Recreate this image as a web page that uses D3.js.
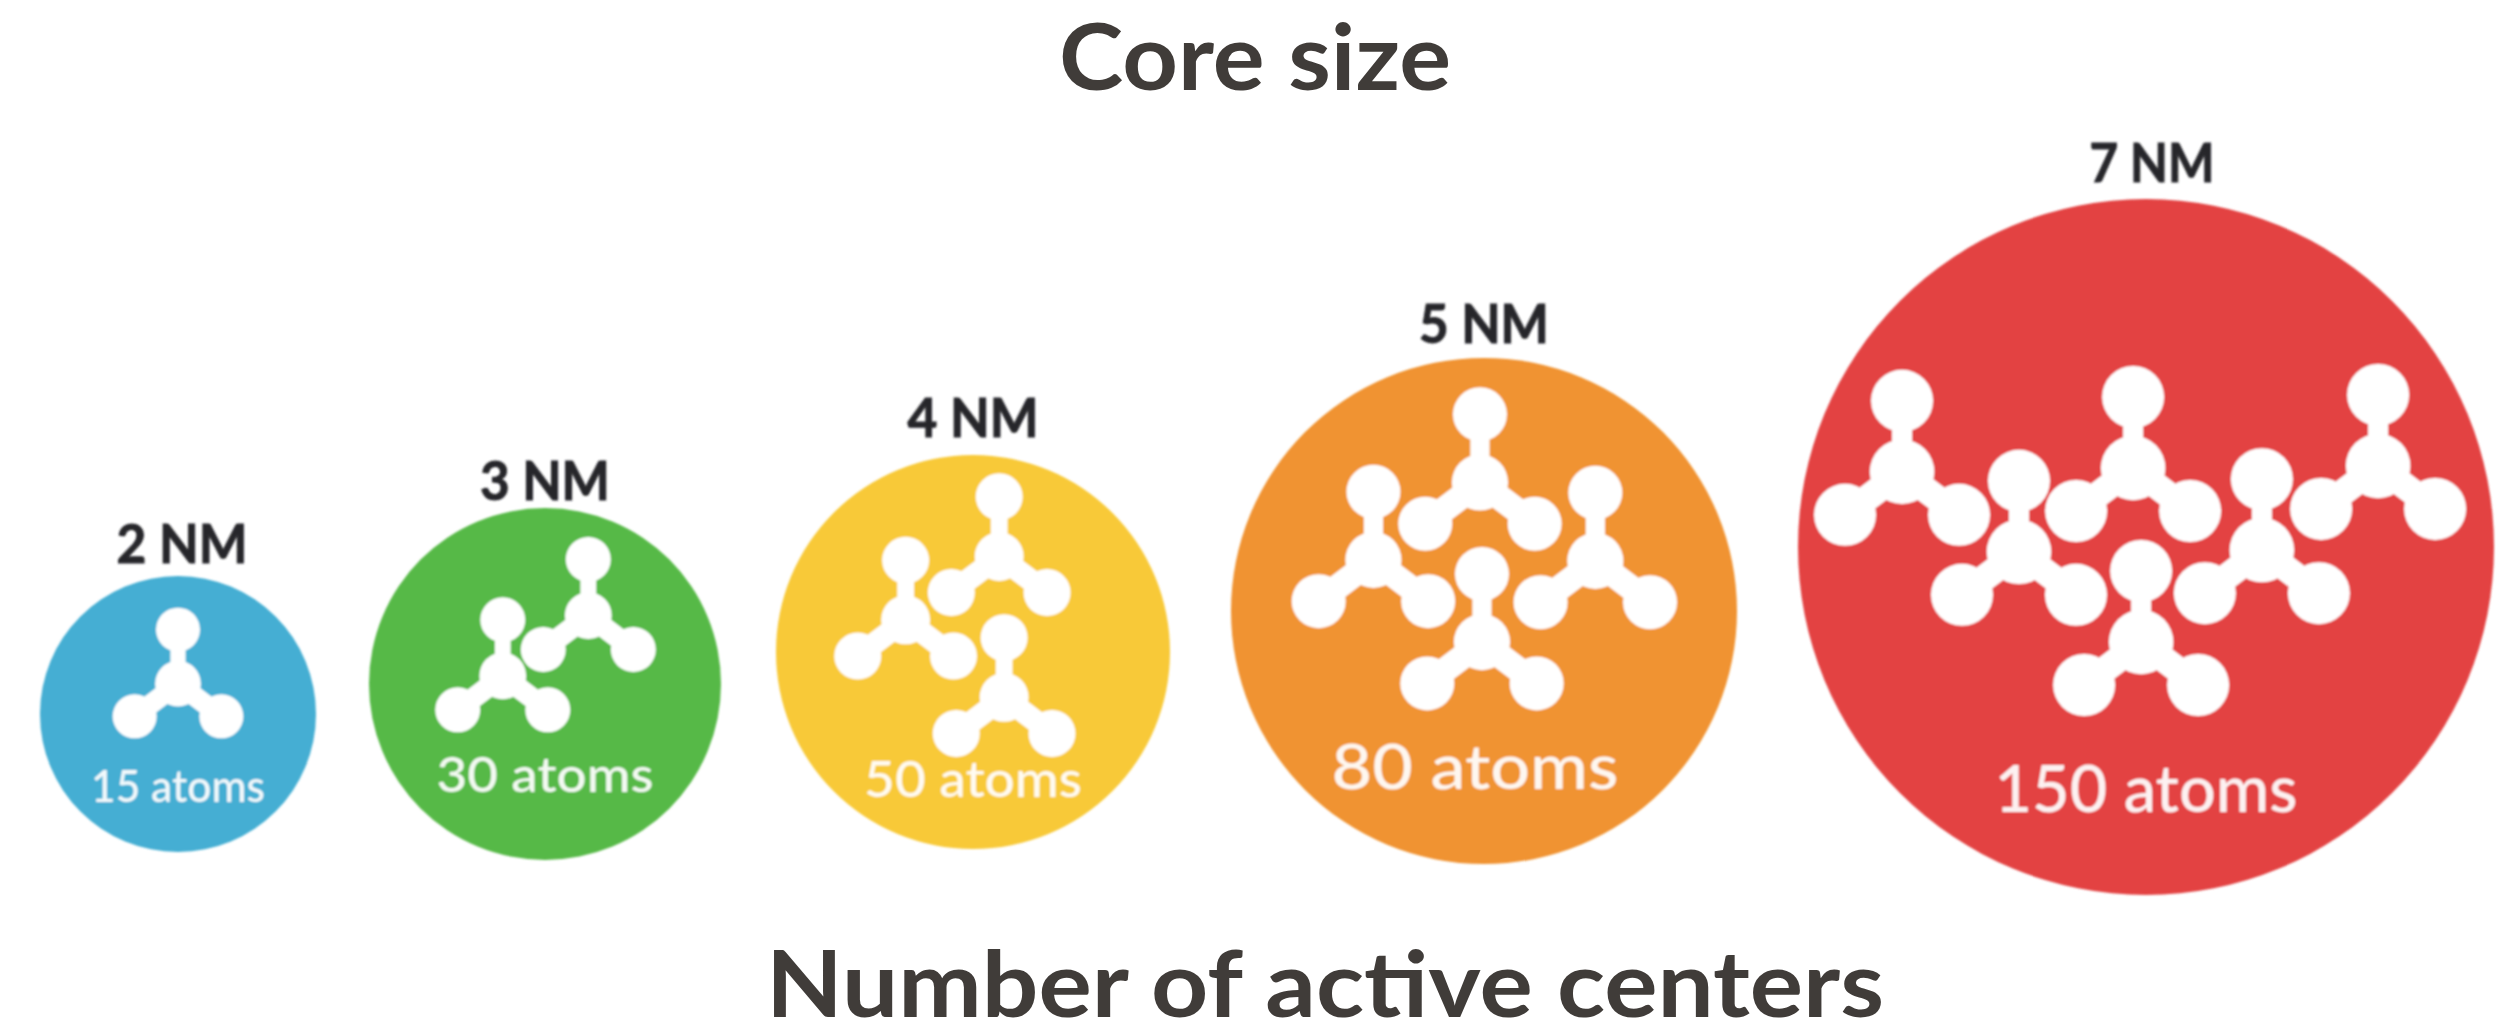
<!DOCTYPE html>
<html>
<head>
<meta charset="utf-8">
<title>Core size</title>
<script src="https://cdnjs.cloudflare.com/ajax/libs/d3/7.8.5/d3.min.js"></script>
<style>
body { margin: 0; background: #fff; }
svg { display: block; }
</style>
</head>
<body>
<script>
// chart data
var coreLabels = ["2 NM", "3 NM", "4 NM", "5 NM", "7 NM"];
var coreSizes = [2, 3, 4, 5, 7];
var atomCounts = [15, 30, 50, 80, 150];
var moleculeCounts = [1, 2, 3, 4, 6];
var titleTop = "Core size";
var titleBottom = "Number of active centers";

// disc colours
var discColors = ["#45aed3", "#56b947", "#f8c937", "#f09330", "#e34243"];

// where each molecule sits inside its disc, as a fraction of the disc radius
var moleculeU = [
  [0],
  [-0.24, 0.246],
  [0.133, -0.342, 0.158],
  [-0.016, -0.437, 0.44, -0.008],
  [-0.701, -0.365, -0.037, -0.014, 0.333, 0.667]
];
var moleculeV = [
  [-0.22],
  [-0.046, -0.389],
  [-0.485, -0.163, 0.23],
  [-0.508, -0.202, -0.198, 0.123],
  [-0.216, 0.014, -0.227, 0.273, 0.009, -0.233]
];

var width = 2515, height = 1022;

//Make an SVG Container
var svg = d3.select("body").append("svg")
  .attr("width", width)
  .attr("height", height);

var soft = svg.append("defs").append("filter")
  .attr("id", "soft");
soft.append("feGaussianBlur").attr("stdDeviation", 1.1);

// scales keyed on the core size in nm
var xScale = d3.scaleLinear().domain(coreSizes).range([178, 545, 973, 1484, 2146]);
var yScale = d3.scaleLinear().domain(coreSizes).range([714, 684, 652, 611, 547]);
var rScale = d3.scaleLinear().domain(coreSizes).range([138, 176, 197, 253, 348]);
var labelY = d3.scaleLinear().domain(coreSizes).range([563, 500, 437, 343, 182]);
var labelW = d3.scaleLinear().domain(coreSizes).range([131, 130, 131, 130, 125]);
var atomY = d3.scaleLinear().domain(coreSizes).range([802, 792, 797, 789, 812]);
var atomFont = d3.scaleLinear().domain(coreSizes).range([44, 49, 51, 61, 65]);
var atomW = d3.scaleLinear().domain(coreSizes).range([174, 217, 218, 287, 303]);
var molScale = d3.scaleLinear().domain(coreSizes).range([0.76, 0.79, 0.84, 0.96, 1]);
var nodeR = d3.scaleLinear().domain(coreSizes).range([22, 22.5, 23.5, 27, 31]);

// one molecule: centre node and three arms
var armX = [0, -57, 57];
var armY = [-71, 43, 43];
var armWidth = [20, 26, 26];

var rows = coreSizes.map(function(d, i) {
  return { nm: d, label: coreLabels[i], atoms: atomCounts[i], color: discColors[i], index: i };
});

var groups = svg.selectAll("g.core")
  .data(rows)
  .enter().append("g")
  .attr("class", "core")
  .attr("filter", "url(#soft)");

//Draw the discs
groups.append("circle")
  .attr("cx", function(d) { return xScale(d.nm); })
  .attr("cy", function(d) { return yScale(d.nm); })
  .attr("r", function(d) { return rScale(d.nm); })
  .style("fill", function(d) { return d.color; });

//Draw the molecules
groups.each(function(d) {
  var g = d3.select(this);
  var r = rScale(d.nm), s = molScale(d.nm), nr = nodeR(d.nm);
  var centers = d3.range(moleculeCounts[d.index]).map(function(k) {
    return [xScale(d.nm) + moleculeU[d.index][k] * r, yScale(d.nm) + moleculeV[d.index][k] * r];
  });
  var mol = g.selectAll("g.molecule")
    .data(centers)
    .enter().append("g")
    .attr("class", "molecule")
    .attr("transform", function(c) { return "translate(" + c[0] + "," + c[1] + ")"; });

  armX.forEach(function(ax, a) {
    mol.append("line")
      .attr("x1", 0).attr("y1", 0)
      .attr("x2", ax * s).attr("y2", armY[a] * s)
      .attr("stroke", "#fff")
      .attr("stroke-width", armWidth[a] * s);
    mol.append("circle")
      .attr("cx", ax * s)
      .attr("cy", armY[a] * s)
      .attr("r", nr)
      .style("fill", "#fff");
  });
  mol.append("circle")
    .attr("r", nr * 1.04)
    .style("fill", "#fff");
});

// atom counts inside the discs
groups.append("text")
  .attr("x", function(d) { return xScale(d.nm) + (d.nm == 5 ? -9 : 0); })
  .attr("y", function(d) { return atomY(d.nm); })
  .attr("text-anchor", "middle")
  .attr("textLength", function(d) { return atomW(d.nm); })
  .attr("lengthAdjust", "spacingAndGlyphs")
  .style("font-family", "Lato")
  .style("font-weight", 500)
  .style("font-size", function(d) { return atomFont(d.nm) + "px"; })
  .style("fill", "#fff")
  .style("fill-opacity", 0.93)
  .text(function(d) { return d.atoms + " atoms"; });

// core size labels above the discs
svg.selectAll("text.nm")
  .data(rows)
  .enter().append("text")
  .attr("class", "nm")
  .attr("x", function(d) { return xScale(d.nm) + (d.nm == 7 ? 6 : d.nm == 2 ? 4 : 0); })
  .attr("y", function(d) { return labelY(d.nm); })
  .attr("text-anchor", "middle")
  .attr("textLength", function(d) { return labelW(d.nm); })
  .attr("lengthAdjust", "spacingAndGlyphs")
  .attr("filter", "url(#soft)")
  .style("font-family", "Lato")
  .style("font-weight", 700)
  .style("font-size", "54px")
  .style("fill", "#26262a")
  .style("stroke", "#26262a")
  .style("stroke-width", 1)
  .text(function(d) { return d.label; });

// titles
svg.append("text")
  .attr("x", 1255).attr("y", 90)
  .attr("text-anchor", "middle")
  .attr("textLength", 392)
  .attr("lengthAdjust", "spacingAndGlyphs")
  .style("font-family", "Lato")
  .style("font-weight", 700)
  .style("font-size", "91px")
  .style("fill", "#403c39")
  .text(titleTop);

svg.append("text")
  .attr("x", 1325).attr("y", 1017)
  .attr("text-anchor", "middle")
  .attr("textLength", 1118)
  .attr("lengthAdjust", "spacingAndGlyphs")
  .style("font-family", "Lato")
  .style("font-weight", 700)
  .style("font-size", "91px")
  .style("fill", "#403c39")
  .text(titleBottom);
</script>
</body>
</html>
